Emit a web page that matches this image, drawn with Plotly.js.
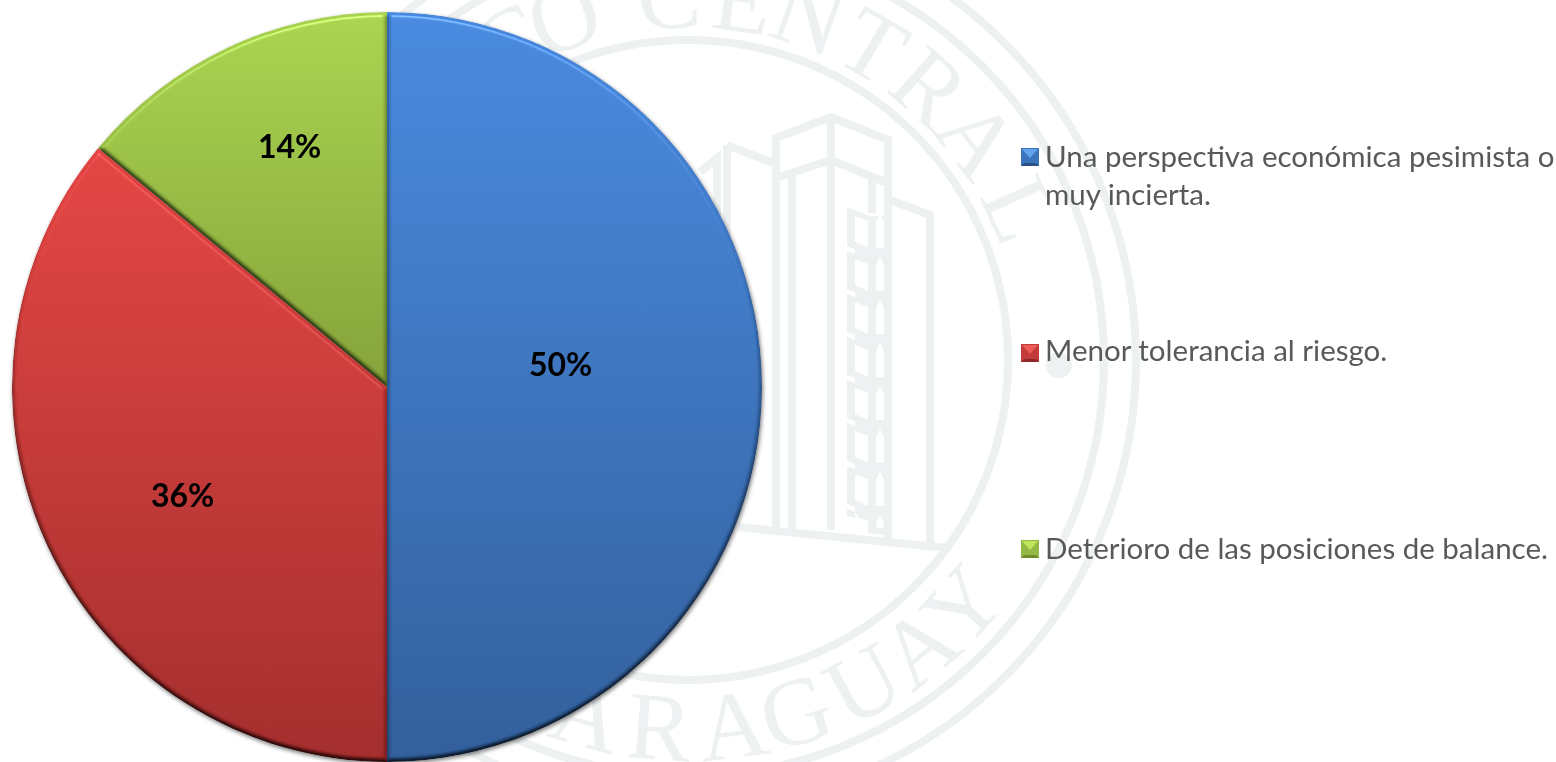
<!DOCTYPE html>
<html>
<head>
<meta charset="utf-8">
<script src="https://cdn.plot.ly/plotly-3.0.1.min.js"></script>
<style>
html,body{margin:0;padding:0;background:#fff;width:1556px;height:762px;overflow:hidden}
#seal{position:absolute;left:0;top:0;z-index:0}
#chart{position:absolute;left:0;top:0;width:1556px;height:762px;z-index:1}
</style>
</head>
<body>
<svg id="seal" width="1556" height="762" viewBox="0 0 1556 762"></svg>
<div id="chart"></div>
<script>
// ---- chart data ----
const categories = [
  "Una perspectiva económica pesimista o<br>muy incierta.",
  "Menor tolerancia al riesgo.",
  "Deterioro de las posiciones de balance."
];
const shares = [50, 36, 14];

// ---- styling, kept apart from the data ----
const W = 1556, H = 762;
const sliceTop    = ["#4a8be0", "#e44745", "#abd551"];
const sliceBottom = ["#33609c", "#a42f2e", "#85a33b"];
const swatchLight = ["#62a5ee", "#ee5a58", "#bfe45a"];
const swatchMid   = ["#3b74bb", "#c23c3b", "#93b843"];
const swatchDark  = ["#2a5288", "#8f2827", "#6f8a2c"];
const labelPos  = [[560, 363], [182, 494], [289, 145]];
const legendText = [[1043, 174], [1043, 350], [1043, 547]];
const swatchTop  = [148, 344, 540];
const swatchX = 1021, swatchSize = 18;

const px = x => x / W, py = y => 1 - y / H;

// ---- background seal (decoration behind the chart) ----
const sealColor = "#edf1f1";
const cx = 688, cy = 360;
const topLetters = [["C",-29.3],["O",-19.9],["C",-3],["E",8.7],["N",19.4],["T",30.5],["R",41.5],["A",52.6],["L",65.6]];
const bottomLetters = [["A",15.8],["R",4.4],["A",-7],["G",-17],["U",-28.4],["A",-38.8],["Y",-48.2]];
(function drawSeal(){
  const svg = document.getElementById("seal");
  const add = (tag, attrs, text) => {
    const el = document.createElementNS("http://www.w3.org/2000/svg", tag);
    for (const k in attrs) el.setAttribute(k, attrs[k]);
    if (text) el.textContent = text;
    svg.appendChild(el); return el;
  };
  [[320,8],[416,8],[448,8]].forEach(([r,w]) =>
    add("circle",{cx,cy,r,fill:"none",stroke:sealColor,"stroke-width":w}));
  add("circle",{cx:1059,cy:365,r:13,fill:sealColor});
  const rad = d => d*Math.PI/180;
  const letter = (ch,x,y,rot) => add("text",{x,y,"text-anchor":"middle","dominant-baseline":"central",
     transform:`rotate(${rot} ${x} ${y})`,fill:sealColor,"font-family":"Liberation Serif","font-size":96},ch);
  topLetters.forEach(([c,a]) => letter(c, cx+365*Math.sin(rad(a)), cy-365*Math.cos(rad(a)), a));
  bottomLetters.forEach(([c,a]) => letter(c, cx-368*Math.sin(rad(a)), cy+368*Math.cos(rad(a)), a));
  // building
  const lines = [
    "M776 178V138L831 117L888 140V183L831 160L776 178",
    "M831 117V530",
    "M776 178V532","M792 172V534",
    "M888 183V540",
    "M872 177V213",
    "M885 198L930 215V546",
    "M727 145L773 163","M727 145V526",
    "M700 172L717 158V524",
    "M738 527L947 548"
  ];
  lines.forEach(d => add("path",{d,fill:"none",stroke:sealColor,"stroke-width":8}));
  add("path",{d:"M847 207L870 216H890V536L868 533V520L847 516Z",fill:sealColor});
  for (let y = 208; y < 510; y += 43) {
    const b = Math.min(y + 40, 528), c = Math.min(y + 34, 512);
    add("path",{d:`M855 ${y+8}L868 ${y+13}V${b}L855 ${c}Z`,fill:"#fff"});
    add("path",{d:`M876 ${y+14}L880 ${y+6}L884 ${y+14}V${b}H876Z`,fill:"#fff"});
    if (y + 46 < 516) add("path",{d:`M847 ${y+38}L855 ${y+41}V${y+46}L847 ${y+43}Z`,fill:"#fff"});
  }
})();

// ---- Plotly chart ----
const shapes = [];
categories.forEach((_, i) => {
  const x0 = swatchX, x1 = swatchX + swatchSize, y0 = swatchTop[i], y1 = y0 + swatchSize, mx = (x0+x1)/2, my = y0 + swatchSize*0.55;
  const path = pts => "M" + pts.map(p => px(p[0]) + "," + py(p[1])).join("L") + "Z";
  const base = {xref:"paper", yref:"paper", line:{width:0}, layer:"above"};
  shapes.push(Object.assign({}, base, {type:"rect", x0:px(x0), x1:px(x1), y0:py(y1), y1:py(y0), fillcolor:swatchDark[i]}));
  shapes.push(Object.assign({}, base, {type:"path", path:path([[x0,y0],[x1,y0],[x1,y1],[x1-3,y1-3],[x0+3,y1-3],[x0,y1]]), fillcolor:swatchMid[i]}));
  shapes.push(Object.assign({}, base, {type:"path", path:path([[x0+1,y0+1],[x1-1,y0+1],[mx,my]]), fillcolor:swatchLight[i]}));
});

const annotations = [];
shares.forEach((v, i) => annotations.push({
  xref:"paper", yref:"paper", x:px(labelPos[i][0]), y:py(labelPos[i][1]),
  xanchor:"center", yanchor:"middle", showarrow:false, text:v + "%",
  font:{family:"Lato", size:32, color:"#000", weight:700}
}));
categories.forEach((c, i) => annotations.push({
  xref:"paper", yref:"paper", x:px(legendText[i][0]), y:py(legendText[i][1]),
  xanchor:"left", yanchor:"middle", align:"left", showarrow:false, text:c,
  font:{family:"Lato", size:29.5, color:"#595959"}
}));

const data = [{
  type:"pie", values:shares, labels:categories, sort:false, direction:"clockwise", rotation:0,
  textinfo:"none", hoverinfo:"none", showlegend:false,
  marker:{colors:swatchMid, line:{width:0}},
  domain:{x:[12/W, 762/W], y:[0, 750/H]}
}];
const layout = {
  width:W, height:H, margin:{l:0,r:0,t:0,b:0},
  paper_bgcolor:"rgba(0,0,0,0)", plot_bgcolor:"rgba(0,0,0,0)",
  showlegend:false, shapes, annotations, font:{family:"Lato"}
};
Plotly.newPlot("chart", data, layout, {displayModeBar:false, staticPlot:true}).then(gd => {
  const svg = gd.querySelector("svg.main-svg");
  const NS = "http://www.w3.org/2000/svg";
  const defs = document.createElementNS(NS, "defs");
  let s = "";
  sliceTop.forEach((c, i) => {
    s += `<linearGradient id="sg${i}" x1="0" y1="0" x2="0" y2="1"><stop offset="0" stop-color="${c}"/><stop offset="1" stop-color="${sliceBottom[i]}"/></linearGradient>`;
  });
  s += `<filter id="bevel" x="-3%" y="-3%" width="106%" height="106%" color-interpolation-filters="sRGB">
    <feGaussianBlur in="SourceAlpha" stdDeviation="2" result="b"/>
    <feDiffuseLighting in="b" surfaceScale="3.5" diffuseConstant="1.414" lighting-color="#fff" result="d"><feDistantLight azimuth="270" elevation="45"/></feDiffuseLighting>
    <feComposite in="SourceGraphic" in2="d" operator="arithmetic" k1="0.65" k2="0.35" k3="0" k4="0" result="m"/>
    <feSpecularLighting in="b" surfaceScale="3.5" specularConstant="0.9" specularExponent="40" lighting-color="#fff" result="sp"><feDistantLight azimuth="270" elevation="55"/></feSpecularLighting>
    <feComposite in="sp" in2="SourceAlpha" operator="in" result="sp2"/>
    <feComposite in="m" in2="sp2" operator="arithmetic" k1="0" k2="1" k3="0.3" k4="-0.04" result="lit"/>
    <feComposite in="lit" in2="SourceAlpha" operator="in"/>
  </filter>`;
  defs.innerHTML = s;
  svg.insertBefore(defs, svg.firstChild);
  gd.querySelectorAll(".slice path.surface").forEach((p, i) => {
    p.style.setProperty("fill", `url(#sg${i})`);
    p.style.setProperty("filter", "url(#bevel)");
  });
  const tr = gd.querySelector(".pielayer .trace");
  if (tr) tr.style.setProperty("filter", "drop-shadow(1px 2px 2px rgba(0,0,0,0.55))");
});
</script>
</body>
</html>
